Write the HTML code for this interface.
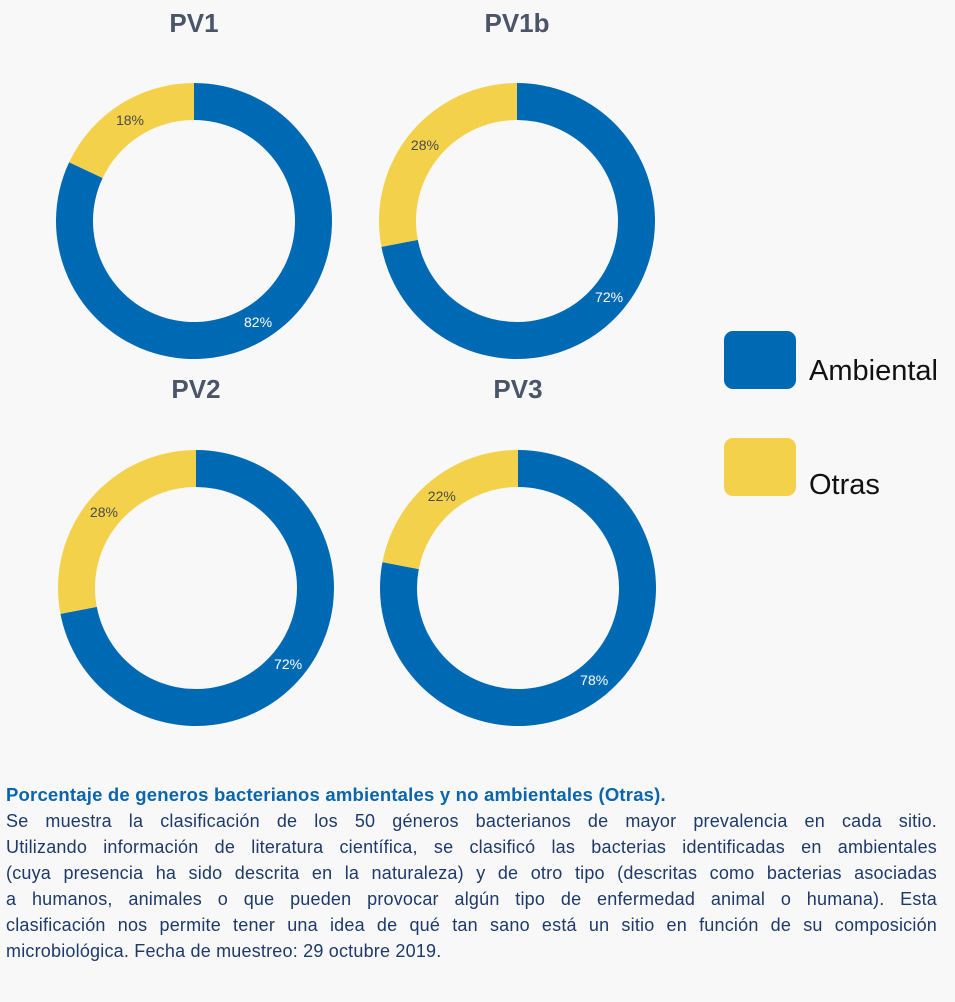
<!DOCTYPE html>
<html><head><meta charset="utf-8"><style>
body{margin:0;background:#f8f8f8;width:955px;height:1002px;overflow:hidden;font-family:"Liberation Sans",sans-serif;}
#chart{position:absolute;left:0;top:0;}
.cap{position:absolute;left:6px;width:931px;font-size:18px;color:#1d3a6a;letter-spacing:0.2px}
.ln{height:26px;line-height:26px;text-align:justify;text-align-last:justify;white-space:nowrap;overflow:visible}
.ln.last{text-align-last:left}
.ttl{color:#0a64ae;font-weight:bold;font-size:18.5px;height:26px;line-height:26px;}
</style></head><body>
<svg id="chart" width="955" height="760" xmlns="http://www.w3.org/2000/svg"></svg>
<div class="cap" style="top:782px">
<div class="ttl">Porcentaje de generos bacterianos ambientales y no ambientales (Otras).</div>
<div class="ln">Se muestra la clasificación de los 50 géneros bacterianos de mayor prevalencia en cada sitio.</div>
<div class="ln">Utilizando información de literatura científica, se clasificó las bacterias identificadas en ambientales</div>
<div class="ln">(cuya presencia ha sido descrita en la naturaleza) y de otro tipo (descritas como bacterias asociadas</div>
<div class="ln">a humanos, animales o que pueden provocar algún tipo de enfermedad animal o humana). Esta</div>
<div class="ln">clasificación nos permite tener una idea de qué tan sano está un sitio en función de su composición</div>
<div class="ln last">microbiológica. Fecha de muestreo: 29 octubre 2019.</div>
</div>
<script>
const sites = ["PV1","PV1b","PV2","PV3"];
const ambiental = [82,72,72,78];
const otras = [18,28,28,22];
const categories = ["Ambiental","Otras"];
const colors = ["#0069b4","#f3d14b"];
const svg = document.getElementById('chart');
const NS = "http://www.w3.org/2000/svg";
const centers = [[194,221],[517,221],[196,588],[518,588]];
const titleY = [32,32,398,398];
const R1 = 138, R0 = 101;
function pt(cx,cy,r,a){const t=a*2*Math.PI/100;return [cx+r*Math.sin(t),cy-r*Math.cos(t)];}
function arc(cx,cy,a0,a1){
  const big=(a1-a0)>50?1:0;
  const p0=pt(cx,cy,R1,a0),p1=pt(cx,cy,R1,a1),q1=pt(cx,cy,R0,a1),q0=pt(cx,cy,R0,a0);
  return `M${p0[0]},${p0[1]}A${R1},${R1} 0 ${big} 1 ${p1[0]},${p1[1]}L${q1[0]},${q1[1]}A${R0},${R0} 0 ${big} 0 ${q0[0]},${q0[1]}Z`;
}
sites.forEach((s,i)=>{
  const [cx,cy]=centers[i];
  const vals=[ambiental[i],otras[i]];
  const tot=vals[0]+vals[1];
  let start=0;
  vals.forEach((v,k)=>{
    const a0=start/tot*100,a1=(start+v)/tot*100;
    const p=document.createElementNS(NS,'path');
    p.setAttribute('d',arc(cx,cy,a0,a1));
    p.setAttribute('fill',colors[k]);
    
    
    svg.appendChild(p);
    const m=pt(cx,cy,(R0+R1)/2,(a0+a1)/2);
    const t=document.createElementNS(NS,'text');
    t.setAttribute('x',m[0]);t.setAttribute('y',m[1]+5);
    t.setAttribute('text-anchor','middle');
    t.setAttribute('font-size','14');
    t.setAttribute('fill',k==0?'#ffffff':'#4a4a4a');
    t.textContent=v+'%';
    
    
    svg.appendChild(t);
    start+=v;
  });
  const t=document.createElementNS(NS,'text');
  t.setAttribute('x',cx);t.setAttribute('y',titleY[i]);
  t.setAttribute('text-anchor','middle');t.setAttribute('font-size','26');t.setAttribute('font-weight','bold');
  t.setAttribute('fill','#4b5568');
  t.textContent=s;
  
  
  svg.appendChild(t);
});
const legY=[331,438], legTY=[380,494];
categories.forEach((c,k)=>{
  const r=document.createElementNS(NS,'rect');
  r.setAttribute('x',724);r.setAttribute('y',legY[k]);r.setAttribute('width',72);r.setAttribute('height',58);
  r.setAttribute('rx',9);r.setAttribute('fill',colors[k]);
  
  
  svg.appendChild(r);
  const t=document.createElementNS(NS,'text');
  t.setAttribute('x',809);t.setAttribute('y',legTY[k]);t.setAttribute('font-size','29');t.setAttribute('fill','#111');
  t.textContent=c;
  
  
  svg.appendChild(t);
});
</script>
</body></html>
